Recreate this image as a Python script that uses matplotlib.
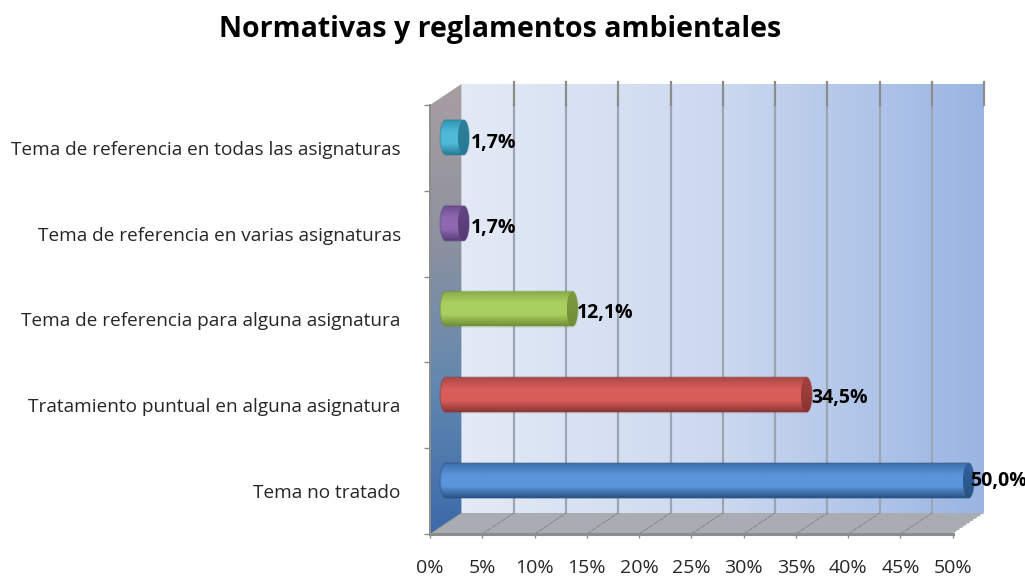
import numpy as np
import matplotlib
matplotlib.use("Agg")
import matplotlib.pyplot as plt
from matplotlib.patches import Polygon
from matplotlib.colors import to_rgb, to_rgba

title = "Normativas y reglamentos ambientales"
categories = ["Tema no tratado",
              "Tratamiento puntual en alguna asignatura",
              "Tema de referencia para alguna asignatura",
              "Tema de referencia en varias asignaturas",
              "Tema de referencia en todas las asignaturas"]
values = [50.0, 34.5, 12.1, 1.7, 1.7]
value_labels = ["50,0%", "34,5%", "12,1%", "1,7%", "1,7%"]
x_ticks = [0, 5, 10, 15, 20, 25, 30, 35, 40, 45, 50]

# styles (top edge, highlight, bottom edge of body; top, bottom of end cap)
bar_styles = [("#3E6EAB", "#5A94DA", "#2A5283", "#31619E", "#2A5283"),
              ("#A94846", "#D95E5B", "#8A3634", "#A64240", "#873432"),
              ("#8AAB49", "#A9CF60", "#708D38", "#7F9B41", "#708D38"),
              ("#6D4D8F", "#8E68B1", "#563B74", "#634584", "#553A72"),
              ("#3193AF", "#4FBAD8", "#267A92", "#2E8099", "#267A92")]
label_offsets_px = [(-4, 0), (-1, -3), (-1, -4), (2, -5), (2, -6)]

W, H = 1025, 577
L_PX, R_PX, T_PX, B_PX = 430, 952.7, 105, 534
fig = plt.figure(figsize=(W / 100, H / 100), dpi=100, facecolor="white")
ax = fig.add_axes([L_PX / W, 1 - B_PX / H, (R_PX - L_PX) / W, (B_PX - T_PX) / H])
ax.set_xlim(0, 50)
ax.set_ylim(0, 5)
ax.set_facecolor("none")

PX_X = 50 / (R_PX - L_PX)            # data units per pixel
PX_Y = 5 / (B_PX - T_PX)
DX, DY = 31.5 * PX_X, 21 * PX_Y      # oblique depth vector
FONT = "Open Sans"
GRID = "#9CA5B4"
DARK = "#8C8C8C"


def proj(v, c, d):
    return v + d * DX, c + d * DY


def gradient(stops, vertical):
    pos = np.linspace(0, 1, len(stops))
    t = np.linspace(0, 1, 128)
    rgb = np.array([to_rgb(s) for s in stops])
    arr = np.stack([np.interp(t, pos, rgb[:, i]) for i in range(3)], axis=-1)
    return arr[:, None, :] if vertical else arr[None, :, :]


def fill(verts, stops, vertical, z, edge=None):
    verts = np.asarray(verts)
    poly = Polygon(verts, closed=True, fc="none", ec="none", clip_on=False, zorder=z)
    ax.add_patch(poly)
    extent = (verts[:, 0].min(), verts[:, 0].max(), verts[:, 1].min(), verts[:, 1].max())
    im = ax.imshow(gradient(stops, vertical), extent=extent, origin="upper",
                   aspect="auto", interpolation="bilinear", zorder=z)
    im.set_clip_box(fig.bbox)
    im.set_clip_path(poly)
    if edge is not None:
        ax.add_patch(Polygon(verts, closed=True, fc="none", ec=to_rgba(edge, 0.35),
                             lw=1.3, clip_on=False, zorder=z + 0.1))
    return im


# back wall
fill([proj(0, 0, 1), proj(50, 0, 1), proj(50, 5, 1), proj(0, 5, 1)],
     ["#E3EAF6", "#CBD8EF", "#9AB5E3"], False, 1)
# side wall
fill([proj(0, 0, 0), proj(0, 0, 1), proj(0, 5, 1), proj(0, 5, 0)],
     ["#A89EA2", "#8E929E", "#6388AF", "#3C6AAA"], True, 2)
# floor
ax.add_patch(Polygon([proj(0, 0, 0), proj(50, 0, 0), proj(50, 0, 1), proj(0, 0, 1)],
                     closed=True, fc="#A9ACB3", ec="none", clip_on=False, zorder=2))

# gridlines on wall and floor
for t in x_ticks:
    xb, yb0 = proj(t, 0, 1)
    _, yb1 = proj(t, 5, 1)
    if t > 0:
        _, yf = proj(t, 5, 0)
        if t < 50:
            ax.plot([xb, xb], [yb0, yf], color=GRID, lw=1.6, clip_on=False, zorder=3)
        ax.plot([xb, xb], [yf, yb1 + 1.5 * PX_Y], color=DARK, lw=1.6, clip_on=False, zorder=3)
    xf, yf0 = proj(t, 0, 0)
    if t < 50:
        ax.plot([xf, xb], [yf0, yb0], color="#85878C", lw=0.7, ls=(0, (5, 1)),
                clip_on=False, zorder=3)
    else:
        ax.plot([xf, xb], [yf0, yb0], color="white", lw=1.0, ls=(0, (1.5, 1.5)),
                clip_on=False, zorder=3)

# cylinders
HALF_H = 17.5 * PX_Y
CAP_W = 5.5 * PX_X
for i, (val, st) in enumerate(zip(values, bar_styles)):
    x0, yc = proj(0, i + 0.5, 0.5)
    x1 = x0 + val
    tt = np.linspace(np.pi / 2, 3 * np.pi / 2, 40)
    left = np.c_[x0 + CAP_W * np.cos(tt), yc + HALF_H * np.sin(tt)]
    tt2 = np.linspace(-np.pi / 2, np.pi / 2, 40)
    right = np.c_[x1 + CAP_W * np.cos(tt2), yc + HALF_H * np.sin(tt2)]
    fill(np.r_[left, right], [st[0], st[1], st[1], st[2]], True, 5, edge=st[2])
    tt3 = np.linspace(0, 2 * np.pi, 80)
    cap = np.c_[x1 + CAP_W * np.cos(tt3), yc + HALF_H * np.sin(tt3)]
    fill(cap, [st[3], st[4]], True, 6)
    dx, dy = label_offsets_px[i]
    ax.annotate(value_labels[i], xy=(x1 + CAP_W, yc), xytext=(dx * 0.72, dy * 0.72),
                textcoords="offset points", ha="left", va="center",
                fontsize=14, fontweight="bold", family=FONT, color="black",
                annotation_clip=False, zorder=8)

# axes
for s in ("top", "right"):
    ax.spines[s].set_visible(False)
for s in ("left", "bottom"):
    ax.spines[s].set_color(DARK)
    ax.spines[s].set_zorder(4)
ax.spines["left"].set_linewidth(1.4)
ax.spines["bottom"].set_linewidth(2.2)
ax.set_xticks(x_ticks, [f"{t}%" for t in x_ticks], family=FONT, fontsize=14)
ax.tick_params(axis="x", length=3, width=1, color=DARK, pad=15, labelcolor="#262626")
ax.set_yticks(range(6), [""] * 6)
ax.tick_params(axis="y", which="major", length=4.5, width=1, color=DARK)
ax.set_yticks(np.arange(5) + 0.5, categories, minor=True, family=FONT, fontsize=13.7)
ax.tick_params(axis="y", which="minor", length=0, pad=21, labelcolor="#262626")

fig.text(500 / W, 1 - 30 / H, title, ha="center", va="center", fontsize=20.5,
         fontweight="bold", family=FONT, color="black")

fig.savefig("out.png", dpi=100, facecolor="white")
